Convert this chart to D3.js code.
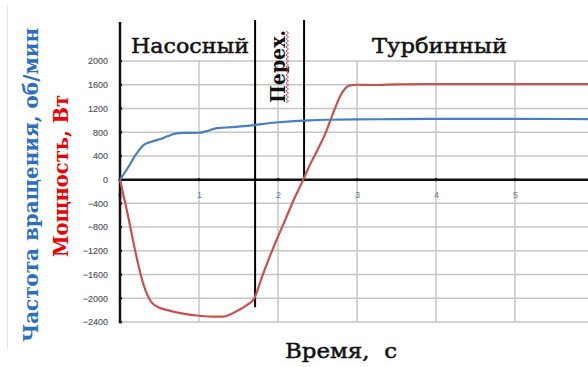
<!DOCTYPE html>
<html>
<head>
<meta charset="utf-8">
<script src="https://cdn.jsdelivr.net/npm/d3@7"></script>
<style>
  html, body { margin: 0; padding: 0; background: #fff; }
  svg { display: block; }
</style>
</head>
<body>
<svg id="chart" width="588" height="367"></svg>
<script>
// Rotation speed (rpm) over time, s
const speedTime  = [0, 0.1, 0.2, 0.3, 0.4, 0.5, 0.6, 0.7, 0.8, 1.0, 1.1, 1.2, 1.3, 1.5, 1.7, 1.9, 2.0, 2.2, 2.4, 2.6, 3.0, 3.5, 4.0, 5.0, 6.0];
const speedValue = [0, 200, 420, 585, 640, 680, 730, 775, 788, 790, 820, 860, 875, 895, 920, 955, 967, 985, 1000, 1010, 1015, 1020, 1025, 1025, 1020];

// Power (W) over time, s
const powerTime  = [0, 0.1, 0.2, 0.3, 0.4, 0.5, 0.6, 0.8, 1.0, 1.2, 1.3, 1.4, 1.5, 1.6, 1.7, 1.8, 1.9, 2.0, 2.1, 2.2, 2.32, 2.4, 2.5, 2.6, 2.7, 2.8, 2.9, 3.0, 3.2, 3.5, 4.0, 5.0, 6.0];
const powerValue = [0, -600, -1250, -1780, -2070, -2160, -2200, -2260, -2295, -2310, -2310, -2270, -2200, -2120, -2000, -1630, -1280, -960, -650, -340, 0, 240, 500, 780, 1130, 1440, 1585, 1600, 1595, 1605, 1610, 1610, 1610];

// Axis ticks
const xTicks = [0, 1, 2, 3, 4, 5];
const yTicks = [2000, 1600, 1200, 800, 400, 0, -400, -800, -1200, -1600, -2000, -2400];

// Operating modes: pump, transition, turbine
const phaseBounds = [1.71, 2.33];
const phaseLabels = ["Насосный", "Перех.", "Турбинный"];

const svg = d3.select("#chart");
const x = d3.scaleLinear().domain([0, 6]).range([120, 594]);
const y = d3.scaleLinear().domain([-2400, 2000]).range([322, 61]);

const serif = "'DejaVu Serif', 'Liberation Serif', serif";
const sans = "'Liberation Sans', Arial, sans-serif";

// faint page border
svg.append("line").attr("x1", 7.5).attr("x2", 7.5).attr("y1", 4).attr("y2", 350)
  .attr("stroke", "#e6e6e6").attr("stroke-width", 1);

// gridlines
const grid = svg.append("g").attr("stroke", "#c6c6c6").attr("stroke-width", 1.5);
grid.selectAll("line.h").data(yTicks.filter(v => v !== 0)).join("line")
  .attr("x1", x(0)).attr("x2", 588)
  .attr("y1", d => y(d)).attr("y2", d => y(d));
grid.selectAll("line.v").data(xTicks.filter(v => v !== 0)).join("line")
  .attr("y1", y(2000)).attr("y2", y(-2400))
  .attr("x1", d => x(d)).attr("x2", d => x(d));

// x axis along zero
const xAxis = d3.axisBottom(x).tickValues(xTicks).tickSize(0).tickPadding(12).tickFormat(d3.format("d"));
const gx = svg.append("g").attr("transform", `translate(0,${y(0)})`).call(xAxis);
gx.select(".domain").remove();
gx.selectAll("text").attr("font-family", sans).attr("font-size", 9).attr("fill", "#6b7a8c");
svg.append("line").attr("x1", x(0)).attr("x2", 588).attr("y1", y(0)).attr("y2", y(0))
  .attr("stroke", "#111").attr("stroke-width", 2.5);
svg.selectAll("circle.xt").data(xTicks).join("circle")
  .attr("cx", d => x(d)).attr("cy", y(0)).attr("r", 1.6).attr("fill", "#111");

// y axis
const yAxis = d3.axisLeft(y).tickValues(yTicks).tickSize(0).tickPadding(12).tickFormat(d3.format("d"));
const gy = svg.append("g").attr("transform", `translate(${x(0)},0)`).call(yAxis);
gy.select(".domain").remove();
gy.selectAll("text").attr("font-family", sans).attr("font-size", 9).attr("fill", "#555")
  .attr("stroke", "#555").attr("stroke-width", 0.15);
svg.selectAll("circle.yt").data(yTicks).join("circle")
  .attr("cx", x(0) + 0.5).attr("cy", d => y(d)).attr("r", 1.6).attr("fill", "#111");
svg.append("line").attr("x1", x(0)).attr("x2", x(0)).attr("y1", 22).attr("y2", y(-2400) + 1)
  .attr("stroke", "#111").attr("stroke-width", 2.5);

// phase boundaries
svg.append("line").attr("x1", x(phaseBounds[0])).attr("x2", x(phaseBounds[0]))
  .attr("y1", 20).attr("y2", y(-2150)).attr("stroke", "#000").attr("stroke-width", 2);
svg.append("line").attr("x1", x(phaseBounds[1])).attr("x2", x(phaseBounds[1]))
  .attr("y1", 20).attr("y2", y(0)).attr("stroke", "#000").attr("stroke-width", 2);

// data lines
const line = d3.line().x(d => x(d[0])).y(d => y(d[1])).curve(d3.curveMonotoneX);
svg.append("path").datum(powerTime.map((t, i) => [t, powerValue[i]]))
  .attr("d", line).attr("fill", "none").attr("stroke", "#c9504d").attr("stroke-width", 2.2)
  .attr("stroke-linejoin", "round");
svg.append("path").datum(speedTime.map((t, i) => [t, speedValue[i]]))
  .attr("d", line).attr("fill", "none").attr("stroke", "#4a7ec4").attr("stroke-width", 2.2)
  .attr("stroke-linejoin", "round");

// phase labels
function heading(sel) {
  return sel.attr("font-family", serif).attr("font-size", 21).attr("fill", "#111")
    .attr("stroke", "#111").attr("stroke-width", 0.5).attr("lengthAdjust", "spacingAndGlyphs");
}
heading(svg.append("text").attr("x", 131).attr("y", 53).text(phaseLabels[0]))
  .attr("textLength", 118);
heading(svg.append("text").attr("x", 372).attr("y", 53).text(phaseLabels[2]))
  .attr("textLength", 135);
svg.append("text").attr("transform", "translate(285,103) rotate(-90)").text(phaseLabels[1])
  .attr("font-family", serif).attr("font-weight", "bold").attr("font-size", 20).attr("fill", "#111")
  .attr("textLength", 73).attr("lengthAdjust", "spacingAndGlyphs");

// wavy underline under the transition label
const wave = d3.range(0, 37).map(i => [i % 2 === 0 ? 286 : 288.5, 103 - i * 2]);
svg.append("path").attr("d", d3.line()(wave)).attr("fill", "none")
  .attr("stroke", "#e03030").attr("stroke-width", 0.9);

// axis titles
svg.append("text").attr("transform", "translate(38,342) rotate(-90)").text("Частота вращения, об/мин")
  .attr("font-family", serif).attr("font-weight", "bold").attr("font-size", 21).attr("fill", "#2a6fc2")
  .attr("textLength", 314).attr("lengthAdjust", "spacingAndGlyphs");
svg.append("text").attr("transform", "translate(68,257) rotate(-90)").text("Мощность, Вт")
  .attr("font-family", serif).attr("font-weight", "bold").attr("font-size", 21).attr("fill", "#f00000")
  .attr("textLength", 162).attr("lengthAdjust", "spacingAndGlyphs");
heading(svg.append("text").attr("x", 285).attr("y", 358).text("Время,  с").attr("xml:space", "preserve"))
  .attr("textLength", 112);
</script>
</body>
</html>
